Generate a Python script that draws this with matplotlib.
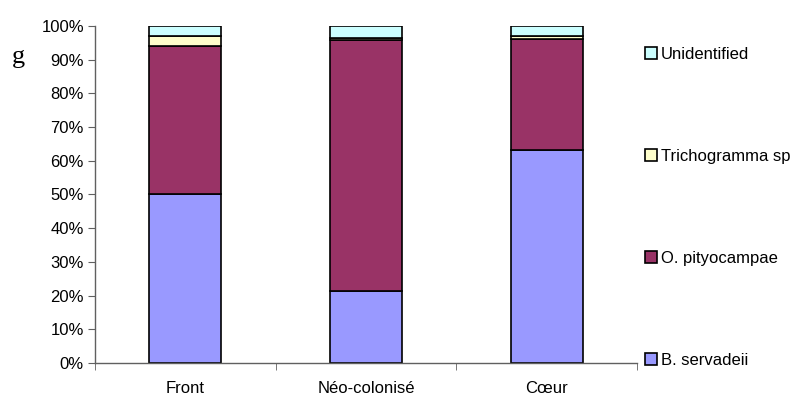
import matplotlib
matplotlib.use("Agg")
import matplotlib.pyplot as plt
import numpy as np
from matplotlib.ticker import FixedLocator, PercentFormatter

plt.rcParams['font.family'] = ['Liberation Sans', 'DejaVu Sans']

categories = ["Front", "Néo-colonisé", "Cœur"]
series_names = ["B. servadeii", "O. pityocampae", "Trichogramma sp", "Unidentified"]
b_servadeii = [50.1, 21.5, 63.2]
o_pityocampae = [44.1, 74.3, 33.0]
trichogramma = [2.9, 0.5, 0.9]
unidentified = [2.9, 3.7, 2.9]
colors = ["#9999FF", "#993366", "#FFFFCC", "#CCFFFF"]

fig = plt.figure(figsize=(8.1, 4.05), dpi=100)
ax = fig.add_axes([95/810, 1-363/405, (637-95)/810, (363-26)/405])

x = np.arange(len(categories))
bottom = np.zeros(len(categories))
handles = []
for name, vals, c in zip(series_names, [b_servadeii, o_pityocampae, trichogramma, unidentified], colors):
    h = ax.bar(x, vals, width=0.4, bottom=bottom, color=c, edgecolor="black", linewidth=1.2, label=name)
    handles.append(h)
    bottom += np.array(vals)

ax.set_xlim(-0.5, 2.5)
ax.set_ylim(0, 100)
ax.set_yticks(np.arange(0, 101, 10))
ax.yaxis.set_major_formatter(PercentFormatter(decimals=0))
ax.set_xticks(x)
ax.set_xticklabels(categories)
ax.xaxis.set_minor_locator(FixedLocator([-0.5, 0.5, 1.5, 2.5]))
ax.tick_params(axis='x', which='major', length=0, pad=13, labelsize=12)
ax.tick_params(axis='x', which='minor', length=5, direction='out', color='#606060')
ax.tick_params(axis='y', length=5, direction='out', color='#606060', labelsize=12, pad=3)
for s in ['top', 'right']:
    ax.spines[s].set_visible(False)
for s in ['left', 'bottom']:
    ax.spines[s].set_color('#606060')
    ax.spines[s].set_linewidth(1.0)

leg = fig.legend(handles[::-1], series_names[::-1], loc='upper left',
                 bbox_to_anchor=(645/810, 1-47/405), frameon=False, fontsize=12,
                 handlelength=0.72, handleheight=0.72, handletextpad=0.25,
                 labelspacing=5.22, borderpad=0, borderaxespad=0)

fig.text(18/810, 1-57/405, "g", family="Liberation Serif", fontsize=19, ha='center', va='center')

fig.savefig("out.png", dpi=100)
